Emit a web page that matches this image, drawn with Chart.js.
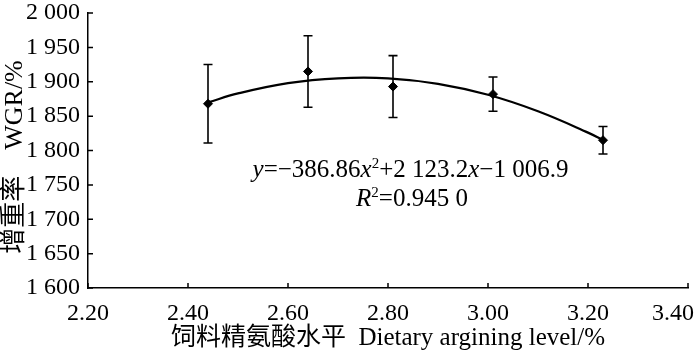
<!DOCTYPE html>
<html>
<head>
<meta charset="utf-8">
<script src="https://cdn.jsdelivr.net/npm/chart.js@4"></script>
<style>
  html, body { margin: 0; padding: 0; background: #fff; }
  #wrap { width: 700px; height: 353px; }
</style>
</head>
<body>
<div id="wrap"><canvas id="chartWgr" width="700" height="353"></canvas></div>
<script>
// dietary arginine level (%) and weight gain rate (%)
const levels = [2.44, 2.64, 2.81, 3.01, 3.23];
const wgrMean = [1868, 1915, 1893, 1882, 1815];
const wgrSd = [57, 52, 45, 25, 20];

// fitted quadratic curve
const fitX = [2.44, 2.5, 2.6, 2.7, 2.8, 2.9, 3.0, 3.1, 3.2, 3.23];
const fitY = [1870, 1883, 1898, 1905, 1905, 1897, 1881, 1857, 1826, 1815];

const xTicks = [2.2, 2.4, 2.6, 2.8, 3.0, 3.2, 3.4];
const yTicks = [1600, 1650, 1700, 1750, 1800, 1850, 1900, 1950, 2000];

const eqLine1 = [["y", "i"], ["=\u2212386.86", ""], ["x", "i"], ["2", "s"], ["+2 123.2", ""], ["x", "i"], ["\u22121 006.9", ""]];
const eqLine2 = [["R", "i"], ["2", "s"], ["=0.945 0", ""]];

const FONT = '"Liberation Serif", "Noto Sans CJK SC", serif';

function spaced(v) {
  return String(v).replace(/\B(?=(\d{3})+(?!\d))/g, " ");
}

// ticks pointing into the plot, error bars, equation text
const extras = {
  id: "extras",
  afterDatasetsDraw(chart) {
    const ctx = chart.ctx;
    const xs = chart.scales.x, ys = chart.scales.y;
    ctx.save();
    ctx.strokeStyle = "#000";
    ctx.lineWidth = 1.5;
    ctx.beginPath();
    xTicks.forEach((t) => {
      const px = xs.getPixelForValue(t);
      ctx.moveTo(px, ys.bottom);
      ctx.lineTo(px, ys.bottom - 5);
    });
    yTicks.forEach((t) => {
      const py = ys.getPixelForValue(t);
      ctx.moveTo(xs.left, py);
      ctx.lineTo(xs.left + 5, py);
    });
    ctx.stroke();

    ctx.lineWidth = 1.6;
    ctx.beginPath();
    levels.forEach((lv, i) => {
      const px = xs.getPixelForValue(lv);
      const top = ys.getPixelForValue(wgrMean[i] + wgrSd[i]);
      const bot = ys.getPixelForValue(wgrMean[i] - wgrSd[i]);
      ctx.moveTo(px, top);
      ctx.lineTo(px, bot);
      ctx.moveTo(px - 4.5, top);
      ctx.lineTo(px + 4.5, top);
      ctx.moveTo(px - 4.5, bot);
      ctx.lineTo(px + 4.5, bot);
    });
    ctx.stroke();

    ctx.fillStyle = "#000";
    ctx.textBaseline = "alphabetic";
    const drawEq = (parts, cx, by) => {
      const fontOf = (k) => k === "i" ? "italic 25px " + FONT : k === "s" ? "15px " + FONT : "25px " + FONT;
      let w = 0;
      parts.forEach(([t, k]) => { ctx.font = fontOf(k); w += ctx.measureText(t).width; });
      let x = cx - w / 2;
      parts.forEach(([t, k]) => {
        ctx.font = fontOf(k);
        ctx.fillText(t, x, k === "s" ? by - 9 : by);
        x += ctx.measureText(t).width;
      });
    };
    drawEq(eqLine1, xs.getPixelForValue(2.845), ys.getPixelForValue(1761));
    drawEq(eqLine2, xs.getPixelForValue(2.848), ys.getPixelForValue(1720));
    ctx.restore();
  },
};

var ctxWgr = document.getElementById("chartWgr");

new Chart(ctxWgr, {
  type: "scatter",
  data: {
    datasets: [
      {
        data: fitX.map((x, i) => ({ x: x, y: fitY[i] })),
        showLine: true,
        borderColor: "#000",
        borderWidth: 2.2,
        pointRadius: 0,
        tension: 0.4,
      },
      {
        data: levels.map((x, i) => ({ x: x, y: wgrMean[i] })),
        pointStyle: "rectRot",
        pointRadius: 4.5,
        backgroundColor: "#000",
        borderColor: "#000",
        borderWidth: 1,
      },
    ],
  },
  options: {
    responsive: false,
    animation: false,
    layout: { padding: { top: 13, right: 12, left: 0, bottom: 0 } },
    plugins: {
      legend: { display: false },
      tooltip: { enabled: false },
    },
    scales: {
      x: {
        type: "linear",
        min: 2.2,
        max: 3.4,
        afterBuildTicks: (s) => { s.ticks = xTicks.map((v) => ({ value: v })); },
        afterFit: (s) => { s.height = 65; s.paddingLeft = 0; s.paddingRight = 0; },
        grid: { drawOnChartArea: false, drawTicks: false },
        border: { color: "#000", width: 1.5 },
        ticks: {
          color: "#000",
          padding: 11,
          maxRotation: 0,
          font: { family: FONT, size: 24 },
          // last label is pulled left so it stays on the canvas
          callback: (v) => Number(v).toFixed(2) + (v >= 3.4 ? "     " : ""),
        },
        title: {
          display: true,
          text: "饲料精氨酸水平  Dietary argining level/%",
          color: "#000",
          padding: { top: 0, bottom: 0 },
          font: { family: FONT, size: 25 },
        },
      },
      y: {
        min: 1600,
        max: 2000,
        afterBuildTicks: (s) => { s.ticks = yTicks.map((v) => ({ value: v })); },
        afterFit: (s) => { s.width = 88; s.paddingTop = 0; s.paddingBottom = 0; },
        grid: { drawOnChartArea: false, drawTicks: false },
        border: { color: "#000", width: 1.5 },
        ticks: {
          color: "#000",
          padding: 8,
          font: { family: FONT, size: 24 },
          callback: (v) => spaced(v),
        },
        title: {
          display: true,
          text: "增重率\u3000WGR/%  ",
          color: "#000",
          padding: { top: 0, bottom: 0 },
          font: { family: FONT, size: 26 },
        },
      },
    },
  },
  plugins: [extras],
});
</script>
</body>
</html>
